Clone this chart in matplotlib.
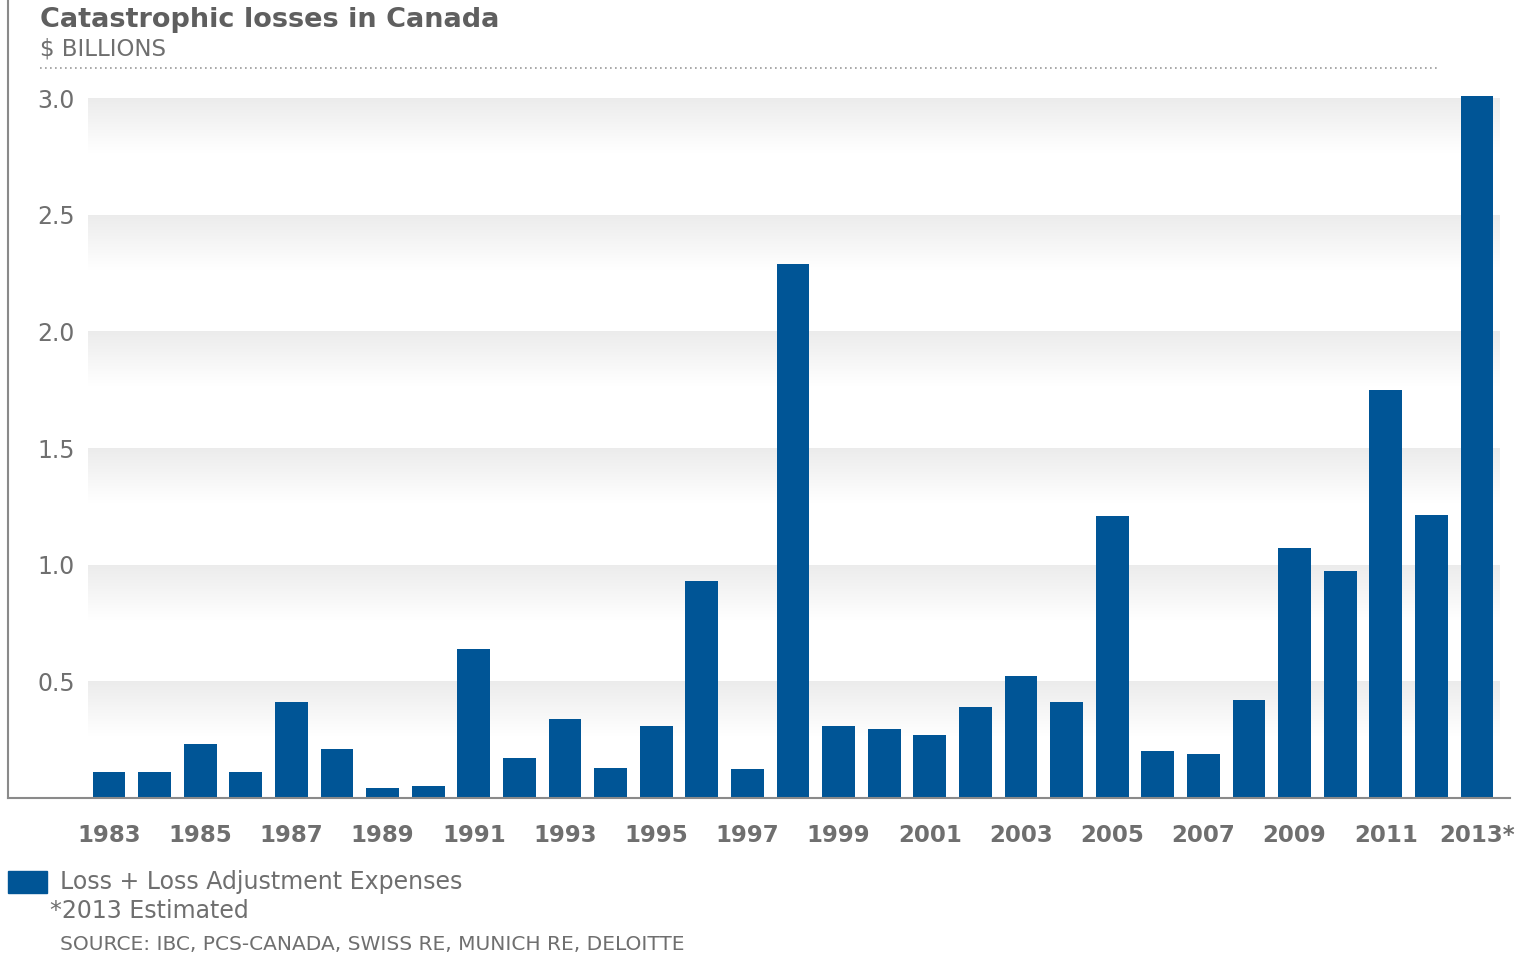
import matplotlib.pyplot as plt
import numpy as np

years = list(range(1983, 2014))
losses = [0.11, 0.11, 0.23, 0.11, 0.41, 0.21, 0.045, 0.05, 0.64, 0.17,
          0.34, 0.13, 0.31, 0.93, 0.125, 2.29, 0.31, 0.295, 0.27, 0.39,
          0.525, 0.41, 1.21, 0.20, 0.19, 0.42, 1.07, 0.975, 1.75, 1.215, 3.01]
tick_years = years[::2]
tick_labels = [str(y) for y in tick_years[:-1]] + ["2013*"]
y_ticks = [0.5, 1.0, 1.5, 2.0, 2.5, 3.0]

BLUE = "#005596"
GREY = "#6f6f6f"
plt.rcParams["font.family"] = ["DejaVu Sans"]

W, H = 1529, 959
fig = plt.figure(figsize=(W / 100, H / 100), dpi=100)
ax = fig.add_axes([8 / W, 1 - 798 / H, (1510 - 8) / W, 798 / H])

x = np.arange(len(years))
step = 45.6
ax.set_xlim((8 - 109) / step, (1510 - 109) / step)
ax.set_ylim(0, 798 / 233.33)

# soft grey bands fading to white below each gridline
shade = np.linspace(1.0, 0.925, 64)
grad = np.repeat(shade[:, None, None], 3, axis=2)
band_h = 0.235
x0, x1 = (88 - 109) / step, (1500 - 109) / step
for t in y_ticks:
    ax.imshow(grad, aspect="auto", extent=(x0, x1, t - band_h, t),
              origin="lower", zorder=0, interpolation="bilinear")

ax.bar(x, losses, width=0.72, color=BLUE, zorder=2)

for s in ("top", "right"):
    ax.spines[s].set_visible(False)
for s in ("left", "bottom"):
    ax.spines[s].set_color("#8a8a8a")
    ax.spines[s].set_linewidth(1.5)

ax.set_yticks(y_ticks)
ax.set_yticklabels([f"{t:.1f}" for t in y_ticks])
ax.tick_params(axis="y", length=0, pad=-48, labelsize=17, labelcolor=GREY)
ax.set_xticks(x[::2])
ax.set_xticklabels(tick_labels, fontweight="bold")
ax.tick_params(axis="x", length=0, pad=19, labelsize=16.5, labelcolor=GREY)
for lab in ax.get_yticklabels():
    lab.set_horizontalalignment("right")

fig.text(40 / W, 1 - 20 / H, "Catastrophic losses in Canada", fontsize=19.5,
         fontweight="bold", color="#5f5f5f", va="center")
fig.text(40 / W, 1 - 49 / H, "\\$ BILLIONS", fontsize=16.5, color=GREY, va="center")
fig.add_artist(plt.Line2D([40 / W, 1437 / W], [1 - 68 / H, 1 - 68 / H],
                          transform=fig.transFigure, color="#9a9a9a",
                          linestyle=(0, (1, 2)), linewidth=1.2))

fig.add_artist(plt.Rectangle((8 / W, 1 - 893 / H), 39 / W, 22 / H,
                             transform=fig.transFigure, color=BLUE))
fig.text(60 / W, 1 - 882 / H, "Loss + Loss Adjustment Expenses", fontsize=17,
         color=GREY, va="center")
fig.text(50 / W, 1 - 911 / H, "*2013 Estimated", fontsize=17, color=GREY,
         va="center")
fig.text(60 / W, 1 - 945 / H, "SOURCE: IBC, PCS-CANADA, SWISS RE, MUNICH RE, DELOITTE",
         fontsize=14.5, color=GREY, va="center")

fig.savefig("out.png", dpi=100)
